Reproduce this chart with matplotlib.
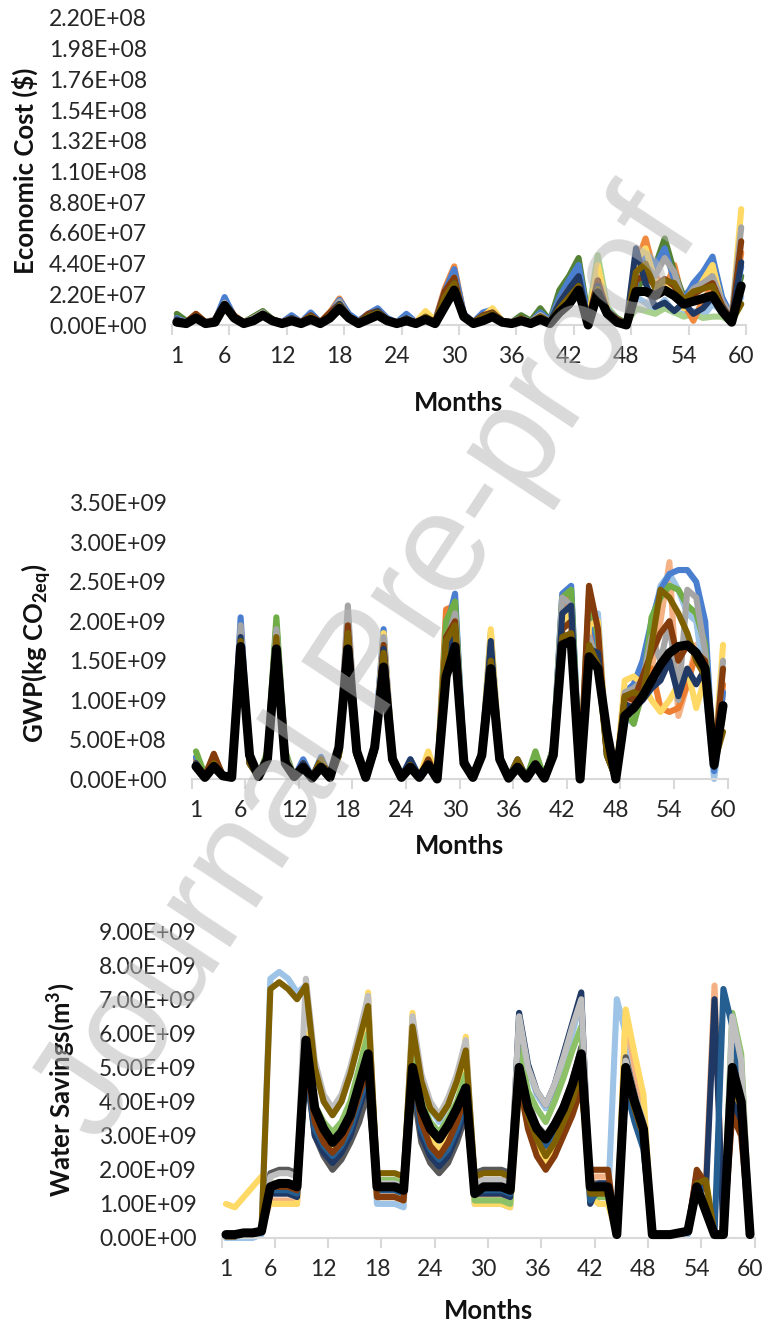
import matplotlib
matplotlib.use('Agg')
import matplotlib.pyplot as plt
from matplotlib.ticker import FixedLocator, FixedFormatter, FuncFormatter

# ---------------- data ----------------
months = list(range(1, 61))
xtick_labels = ['1', '6', '12', '18', '24', '30', '36', '42', '48', '54', '60']
xtick_pos = [1, 6, 12, 18, 24, 30, 36, 42, 48, 54, 60]

# Panel 1: Economic cost (units of 1e7 $)
econ_unit = 1e7
econ_orange = [0.6,0.2,0.8,0.2,0.4,1.8,0.7,0.2,0.5,0.9, 0.4,0.2,0.6,0.2,0.7,0.2,0.9,1.9,0.7,0.2,
               0.7,1.0,0.4,0.2,0.6,0.2,0.8,0.3,2.6,4.2, 0.8,0.2,0.7,0.9,0.3,0.2,0.6,0.2,0.8,0.3,
               1.5,2.8,3.8,0.4,3.6,1.0,0.4,0.1,4.3,6.2, 3.6,2.4,4.3,1.5,0.3,1.8,2.7,1.5,0.5,5.2]
econ_dgreen = [0.8,0.3,0.6,0.2,0.3,1.6,0.6,0.2,0.6,1.0, 0.4,0.2,0.5,0.2,0.6,0.2,0.7,1.6,0.6,0.3,
               0.6,0.9,0.4,0.2,0.6,0.2,0.6,0.2,2.0,3.6, 0.7,0.2,0.8,1.1,0.3,0.2,0.7,0.3,1.2,0.3,
               2.5,3.5,4.8,0.6,2.5,1.0,0.5,0.1,2.5,3.5, 4.2,6.2,3.8,2.0,2.8,3.4,3.6,1.8,0.8,3.5]
econ_lgreen = [0.5,0.2,0.5,0.2,0.3,1.5,0.5,0.2,0.5,0.9, 0.3,0.2,0.4,0.2,0.5,0.2,0.6,1.5,0.5,0.2,
               0.5,0.8,0.3,0.2,0.5,0.2,0.5,0.2,1.6,2.8, 0.6,0.2,0.6,0.9,0.3,0.2,0.5,0.2,0.9,0.3,
               1.5,2.4,3.0,0.6,5.0,1.3,0.5,0.1,1.2,1.0, 0.8,1.2,0.9,0.6,0.8,0.5,0.6,0.6,0.2,1.5]
econ_blue = [0.5,0.2,0.7,0.2,0.3,2.0,0.6,0.2,0.4,0.8, 0.3,0.2,0.7,0.2,0.9,0.2,0.8,1.8,0.8,0.3,
             0.8,1.2,0.5,0.2,0.8,0.2,0.6,0.3,2.4,4.0, 0.8,0.2,0.9,1.1,0.3,0.2,0.5,0.2,0.9,0.3,
             2.0,3.2,4.3,0.5,3.0,1.1,0.4,0.1,3.0,5.3, 4.2,5.5,3.2,1.8,3.0,3.8,4.9,2.0,0.6,4.2]
econ_yellow = [0.3,0.1,0.6,0.2,0.3,1.5,0.5,0.2,0.4,0.8, 0.3,0.1,0.4,0.2,0.5,0.2,0.6,1.5,0.6,0.2,
               0.5,0.8,0.3,0.1,0.5,0.2,1.0,0.3,1.8,3.0, 0.6,0.2,0.6,1.2,0.3,0.1,0.4,0.2,0.7,0.2,
               1.6,2.6,3.0,0.3,4.3,1.0,0.3,0.1,4.6,5.5, 3.2,2.6,3.0,1.2,2.0,3.2,4.3,1.5,0.4,8.3]
econ_gray = [0.4,0.2,0.6,0.2,0.4,1.6,0.6,0.2,0.5,0.9, 0.3,0.2,0.5,0.2,0.6,0.2,0.7,1.7,0.6,0.2,
             0.6,1.0,0.4,0.2,0.5,0.2,0.6,0.2,2.2,3.4, 0.6,0.2,0.6,0.9,0.3,0.2,0.5,0.2,0.7,0.2,
             1.4,2.4,3.3,0.4,2.8,0.9,0.4,0.1,3.3,4.3, 3.5,4.8,3.8,1.6,2.6,3.0,3.5,1.7,0.6,7.0]
econ_brown = [0.3,0.2,0.8,0.2,0.3,1.5,0.6,0.2,0.4,0.8, 0.3,0.2,0.5,0.2,0.7,0.2,0.9,1.5,0.6,0.2,
              0.8,1.0,0.4,0.2,0.4,0.2,0.5,0.2,2.4,3.4, 0.6,0.2,0.7,0.9,0.3,0.2,0.4,0.2,0.6,0.2,
              1.2,2.2,3.0,0.3,3.2,1.0,0.4,0.1,3.2,3.6, 2.8,3.3,2.8,1.4,2.2,2.6,3.0,1.4,0.3,6.0]
econ_olive = [0.3,0.1,0.6,0.1,0.3,1.5,0.5,0.1,0.4,0.8, 0.3,0.1,0.4,0.1,0.6,0.1,0.6,1.4,0.6,0.2,
              0.6,0.9,0.3,0.1,0.4,0.1,0.6,0.2,2.0,3.0, 0.6,0.2,0.6,0.8,0.3,0.1,0.5,0.1,0.6,0.2,
              1.2,2.0,2.8,0.3,2.6,0.8,0.3,0.1,3.8,4.4, 2.6,3.2,3.0,1.8,2.4,2.6,2.8,1.2,0.3,1.5]
econ_navy = [0.4,0.1,0.6,0.1,0.3,1.5,0.5,0.1,0.4,0.8, 0.3,0.1,0.5,0.1,0.6,0.1,0.6,1.5,0.6,0.2,
             0.6,1.0,0.3,0.1,0.5,0.1,0.5,0.2,1.8,3.0, 0.6,0.2,0.6,0.8,0.3,0.1,0.5,0.1,0.6,0.2,
             1.6,2.6,3.5,0.3,2.8,0.9,0.3,0.1,5.5,3.0, 1.3,1.6,1.0,1.6,0.8,1.2,2.0,1.3,0.3,4.5]
econ_lblue = [0.5,0.2,0.5,0.2,0.3,1.4,0.5,0.2,0.5,0.8, 0.3,0.2,0.4,0.2,0.5,0.2,0.6,1.4,0.5,0.2,
              0.5,0.8,0.3,0.2,0.4,0.2,0.5,0.2,1.4,2.2, 0.5,0.2,0.5,0.8,0.3,0.2,0.4,0.2,0.5,0.2,
              1.0,1.8,2.4,0.3,2.2,0.8,0.3,0.1,2.0,1.6, 1.0,1.8,0.9,0.8,1.0,0.6,1.5,1.0,0.2,2.0]
econ_mean = [0.2,0.1,0.5,0.1,0.2,1.4,0.5,0.1,0.3,0.7, 0.3,0.1,0.3,0.1,0.4,0.1,0.5,1.2,0.5,0.1,
             0.4,0.7,0.3,0.1,0.3,0.1,0.4,0.1,1.3,2.5, 0.6,0.1,0.3,0.6,0.2,0.1,0.3,0.1,0.4,0.1,
             0.9,1.5,2.5,0.0,2.3,0.8,0.2,0.0,2.4,2.4, 2.1,2.5,2.1,1.5,1.7,1.9,2.1,1.0,0.2,2.8]

# Panel 2: GWP (units of 1e8 kg CO2eq)
gwp_unit = 1e8
gwp_orange = [2.5,0.5,2.8,0.5,0.5,19.0,2.5,0.5,3.0,19.0, 3.0,0.3,2.0,0.2,2.0,0.2,3.5,20.5,3.5,0.3,
              4.0,18.0,3.0,0.3,2.0,0.3,2.5,0.2,21.5,22.0, 2.5,0.3,3.5,17.0,3.0,0.2,2.0,0.2,2.5,0.2,
              4.0,22.0,23.0,0.5,19.0,15.0,4.0,0.2,10.0,12.0, 13.5,14.0,9.0,8.5,9.0,12.0,16.0,15.0,2.0,12.0]
gwp_blue = [2.8,0.3,2.5,0.4,0.4,20.5,2.5,0.3,3.0,19.5, 3.0,0.2,2.5,0.2,2.8,0.2,3.5,20.0,3.5,0.3,
            4.5,19.0,3.0,0.3,2.5,0.3,2.0,0.2,19.0,23.5, 2.5,0.3,3.5,18.5,3.0,0.2,2.5,0.2,3.0,0.2,
            4.0,23.5,24.5,0.5,21.5,17.0,3.5,0.2,11.0,12.0, 15.0,20.0,24.0,26.0,26.5,26.5,25.0,20.0,1.0,11.0]
gwp_green = [3.5,0.5,3.0,0.5,0.5,18.0,2.0,0.3,3.5,20.5, 3.5,0.2,1.5,0.1,2.0,0.1,3.0,18.5,3.0,0.2,
             3.5,17.0,2.5,0.2,2.0,0.2,2.0,0.1,20.0,22.5, 2.0,0.2,3.0,17.0,2.5,0.1,2.0,0.1,3.5,0.1,
             4.0,23.0,24.0,0.3,23.5,18.0,3.0,0.1,9.0,7.0, 11.0,20.5,23.0,24.5,24.0,22.0,21.0,17.0,2.0,8.0]
gwp_yellow = [2.0,0.3,2.0,0.3,0.3,17.5,2.0,0.3,2.5,17.0, 2.5,0.2,1.5,0.1,1.8,0.1,3.0,17.0,3.0,0.2,
              3.5,18.5,3.0,0.2,2.0,0.2,3.5,0.1,14.0,18.0, 2.0,0.2,3.0,19.0,3.0,0.1,1.8,0.1,2.0,0.1,
              3.0,20.0,21.0,0.3,19.5,20.0,4.0,0.1,12.5,13.0, 12.0,10.0,8.5,10.0,12.0,14.0,9.0,13.0,2.0,17.0]
gwp_gray = [2.0,0.3,2.5,0.3,0.3,19.5,2.0,0.3,3.0,19.0, 3.0,0.2,2.0,0.2,2.0,0.2,3.5,22.0,3.5,0.2,
            4.0,18.0,2.5,0.2,1.8,0.2,2.0,0.1,17.0,21.0, 2.0,0.2,3.0,16.0,2.5,0.1,1.8,0.1,2.0,0.1,
            3.5,23.0,22.0,0.3,18.0,14.5,3.5,0.1,11.0,11.5, 12.5,18.0,15.0,20.0,10.0,24.0,23.0,16.0,1.5,15.0]
gwp_brown = [2.0,0.3,3.2,0.4,0.3,17.0,2.0,0.3,2.5,17.0, 2.5,0.2,2.0,0.2,2.5,0.2,3.0,19.5,3.0,0.2,
             3.5,17.0,2.5,0.2,2.0,0.2,2.5,0.1,18.0,20.0, 2.0,0.2,3.0,15.5,2.5,0.1,2.0,0.1,2.0,0.1,
             3.0,19.0,20.0,0.3,24.5,19.0,3.5,0.1,10.5,10.0, 13.0,16.0,18.5,20.0,15.0,17.0,16.0,15.0,2.0,14.0]
gwp_olive = [1.8,0.2,2.0,0.3,0.3,17.5,2.0,0.3,2.5,18.0, 2.5,0.2,1.5,0.1,2.5,0.1,3.0,18.5,3.0,0.2,
             3.5,16.0,2.5,0.2,1.8,0.2,2.0,0.1,17.5,19.5, 2.0,0.2,3.0,15.0,2.5,0.1,2.5,0.1,2.0,0.1,
             3.0,18.0,18.5,0.3,17.0,14.5,3.0,0.1,10.5,11.0, 10.5,17.0,24.0,23.0,21.0,18.5,15.0,13.0,2.0,6.0]
gwp_navy = [2.0,0.2,1.8,0.3,0.3,18.0,2.0,0.3,2.5,17.0, 2.5,0.2,2.0,0.1,1.5,0.1,3.0,17.5,3.0,0.2,
            3.5,16.5,2.5,0.2,2.5,0.2,2.0,0.1,15.0,19.0, 2.0,0.2,3.0,17.5,2.5,0.1,2.0,0.1,2.0,0.1,
            3.0,21.0,22.0,0.3,16.5,16.0,3.0,0.1,9.5,9.0, 10.0,11.5,12.5,15.0,10.5,14.0,12.0,14.0,1.5,9.0]
gwp_lblue = [2.5,0.3,2.0,0.3,0.3,18.5,2.0,0.3,2.5,19.5, 2.5,0.2,1.8,0.1,1.8,0.1,3.0,20.0,3.0,0.2,
             3.5,17.5,2.5,0.2,2.0,0.2,2.0,0.1,16.0,21.0, 2.0,0.2,3.0,16.5,2.5,0.1,2.0,0.1,2.0,0.1,
             3.5,22.0,23.0,0.3,20.0,21.0,3.5,0.1,8.0,7.0, 12.0,19.0,24.5,26.0,24.0,21.0,20.0,12.0,0.0,9.0]
gwp_salmon = [2.0,0.3,2.0,0.3,0.3,18.0,2.0,0.3,2.5,17.5, 2.5,0.2,2.0,0.1,2.0,0.1,3.0,18.0,3.0,0.2,
              3.5,16.5,2.5,0.2,1.8,0.2,2.0,0.1,17.0,20.5, 2.0,0.2,3.0,15.5,2.5,0.1,2.0,0.1,2.0,0.1,
              3.0,19.0,20.0,0.3,18.0,16.5,3.0,0.1,9.0,10.0, 11.0,14.0,20.0,27.5,8.0,12.0,17.0,14.0,1.5,11.0]
gwp_mean = [1.6,0.2,1.6,0.4,0.2,16.8,3.0,0.3,2.5,16.5, 2.0,0.3,1.5,0.1,1.5,0.2,4.0,16.5,3.5,0.2,
            4.0,14.2,2.5,0.2,1.5,0.2,1.8,0.0,13.0,16.8, 2.0,0.2,3.0,14.0,2.5,0.1,1.5,0.1,1.8,0.1,
            3.0,17.0,17.5,0.0,15.5,14.0,6.0,0.0,8.0,9.0, 10.5,12.5,14.5,16.0,16.8,17.0,16.0,14.0,1.8,9.3]

# Panel 3: Water savings (units of 1e9 m3)
water_unit = 1e9
water_lblue = [0.0,0.0,0.0,0.0,0.1,7.6,7.8,7.6,7.2,7.4, 5.0,4.0,3.6,4.0,4.8,5.8,7.0,1.0,1.0,1.0,
               0.9,6.4,4.6,3.8,3.4,3.9,4.6,5.6,1.0,1.0, 1.0,1.0,0.9,6.4,5.0,4.2,3.8,4.4,5.2,6.0,
               7.0,1.2,1.0,1.0,7.0,6.0,4.8,3.6,0.1,0.1, 0.1,0.1,0.1,1.8,1.5,0.1,0.1,6.0,5.0,0.1]
water_olive = [0.05,0.05,0.1,0.1,0.2,7.3,7.5,7.3,7.0,7.4, 5.0,4.0,3.6,4.0,4.8,5.8,6.8,1.9,1.9,1.9,
               1.8,6.2,4.6,3.8,3.5,3.9,4.6,5.5,1.8,1.9, 1.9,1.9,1.8,4.8,3.6,2.9,2.4,2.8,3.4,4.0,
               5.0,1.3,1.3,1.3,0.1,4.8,3.8,3.0,0.1,0.1, 0.1,0.1,0.2,1.6,1.7,0.1,0.1,4.6,3.8,0.1]
water_gray = [0.05,0.05,0.1,0.1,0.2,1.8,1.9,1.9,1.8,7.6, 5.2,4.2,3.8,4.2,5.0,6.0,7.1,1.6,1.6,1.6,
              1.5,6.5,4.8,4.0,3.6,4.1,4.8,5.8,1.6,1.7, 1.7,1.7,1.6,6.5,5.0,4.3,3.9,4.5,5.3,6.2,
              7.0,1.5,1.5,1.5,0.1,5.2,4.2,3.4,0.1,0.1, 0.1,0.1,0.2,1.4,1.2,0.1,0.1,6.5,5.2,0.1]
water_dgray = [0.05,0.05,0.1,0.1,0.2,1.9,2.0,2.0,1.9,5.0, 3.0,2.4,2.0,2.3,2.8,3.4,4.3,1.6,1.6,1.6,
               1.5,4.5,2.8,2.2,1.9,2.2,2.8,3.6,1.9,2.0, 2.0,2.0,1.9,5.3,4.0,3.3,3.0,3.4,3.9,4.6,
               5.6,1.6,1.6,1.6,0.1,5.3,4.2,3.3,0.1,0.1, 0.1,0.1,0.2,1.6,1.5,0.1,0.1,5.2,4.2,0.1]
water_yellow = [1.0,0.9,1.2,1.5,1.8,1.0,1.0,1.0,1.0,6.0, 3.6,2.9,2.5,2.8,3.4,4.2,7.2,1.2,1.2,1.2,
                1.1,6.6,3.6,2.9,2.6,2.9,3.5,5.9,1.0,1.0, 1.0,1.0,0.9,4.4,3.3,2.6,2.2,2.6,3.2,3.8,
                4.6,1.2,1.0,1.0,0.1,6.7,5.4,4.2,0.1,0.1, 0.1,0.1,0.2,1.5,1.8,0.1,0.1,4.0,3.6,0.1]
water_salmon = [0.05,0.05,0.1,0.1,0.2,1.1,1.1,1.1,1.0,5.4, 3.2,2.6,2.3,2.6,3.2,4.0,4.8,1.3,1.3,1.3,
                1.2,5.2,3.4,2.8,2.5,2.8,3.3,4.0,1.2,1.2, 1.2,1.2,1.1,4.6,3.5,2.8,2.5,2.9,3.4,4.0,
                4.9,1.8,1.8,1.8,0.1,6.6,5.0,3.8,0.1,0.1, 0.1,0.1,0.2,1.6,1.5,7.4,0.1,4.0,3.4,0.1]
water_navy = [0.05,0.05,0.1,0.1,0.2,1.3,1.3,1.3,1.2,5.2, 3.0,2.5,2.2,2.5,3.0,3.8,4.6,1.5,1.5,1.5,
              1.4,5.0,3.0,2.4,2.1,2.4,3.0,3.8,1.3,1.3, 1.3,1.3,1.2,6.6,5.1,4.3,3.9,4.5,5.4,6.3,
              7.2,1.0,1.6,1.6,0.1,4.6,3.6,2.8,0.1,0.1, 0.1,0.1,0.2,1.9,1.2,7.0,0.1,4.0,3.4,0.1]
water_dblue = [0.05,0.05,0.1,0.1,0.2,1.4,1.4,1.4,1.3,5.0, 3.2,2.7,2.4,2.7,3.2,4.0,4.8,1.4,1.4,1.4,
               1.3,4.8,3.2,2.6,2.3,2.6,3.2,4.0,1.4,1.4, 1.4,1.4,1.3,4.9,3.7,3.1,2.7,3.1,3.7,4.3,
               5.2,1.1,1.4,1.4,0.1,4.4,3.4,2.6,0.1,0.1, 0.1,0.1,0.2,1.5,1.4,0.1,7.3,6.2,4.5,0.1]
water_green = [0.05,0.05,0.1,0.1,0.2,1.6,1.6,1.6,1.5,5.6, 3.9,3.4,3.1,3.4,4.0,5.0,6.0,1.7,1.7,1.7,
               1.6,5.6,4.0,3.4,3.1,3.5,4.0,4.8,1.1,1.1, 1.1,1.1,1.0,5.6,4.3,3.8,3.4,4.0,4.7,5.5,
               6.2,1.4,1.2,1.2,0.1,5.0,4.0,3.2,0.1,0.1, 0.1,0.1,0.2,1.4,1.3,0.1,0.1,6.6,5.4,0.1]
water_brown = [0.05,0.05,0.1,0.1,0.2,1.5,1.5,1.5,1.4,5.2, 3.4,2.8,2.5,2.8,3.4,4.2,5.0,1.2,1.2,1.2,
               1.1,5.0,3.4,2.7,2.4,2.8,3.4,4.2,1.6,1.7, 1.7,1.7,1.6,4.6,3.2,2.4,2.0,2.4,3.0,3.6,
               4.4,2.0,2.0,2.0,0.1,4.8,3.8,3.0,0.1,0.1, 0.1,0.1,0.2,2.0,1.6,0.1,0.1,3.6,3.0,0.1]
water_mean = [0.1,0.1,0.15,0.15,0.2,1.5,1.6,1.6,1.5,5.8, 3.8,3.2,2.8,3.1,3.6,4.5,5.4,1.5,1.5,1.5,
              1.4,5.0,3.8,3.2,2.9,3.3,3.8,4.4,1.3,1.5, 1.5,1.5,1.4,5.0,3.8,3.2,2.9,3.3,3.8,4.5,
              5.4,1.5,1.5,1.5,0.1,5.0,4.0,3.2,0.1,0.1, 0.1,0.15,0.2,1.5,0.8,0.1,0.1,5.0,4.0,0.1]

# ---------------- styling ----------------
plt.rcParams['font.family'] = ['Lato', 'DejaVu Sans']
plt.rcParams['mathtext.fontset'] = 'custom'
plt.rcParams['mathtext.rm'] = 'Lato'
plt.rcParams['mathtext.bf'] = 'Lato:bold'

W, H = 763, 1328
fig = plt.figure(figsize=(W / 100, H / 100), dpi=100)

def make_ax(left, right, y0, ytop):
    return fig.add_axes([left / W, 1 - y0 / H, (right - left) / W, (y0 - ytop) / H])

sci = FuncFormatter(lambda v, p: f"{v:.2E}")
TICK_FS = 16.5

def style(ax, ymax, ystep):
    for s in ['left', 'right', 'top']:
        ax.spines[s].set_visible(False)
    ax.spines['bottom'].set_color('#d9d9d9')
    ax.spines['bottom'].set_linewidth(1.5)
    ax.set_xlim(0.5, 60.5)
    ax.set_ylim(0, ymax)
    ax.xaxis.set_major_locator(FixedLocator([0.5 + 6 * k for k in range(11)]))
    ax.xaxis.set_major_formatter(FixedFormatter([''] * 11))
    ax.xaxis.set_minor_locator(FixedLocator(xtick_pos))
    ax.xaxis.set_minor_formatter(FixedFormatter(xtick_labels))
    ax.tick_params(axis='x', which='major', length=7, width=1.5, color='#d9d9d9', direction='out')
    ax.tick_params(axis='x', which='minor', length=0, pad=15, labelsize=TICK_FS, labelcolor='#262626')
    nt = int(round(ymax / ystep))
    ax.yaxis.set_major_locator(FixedLocator([ystep * k for k in range(nt + 1)]))
    ax.yaxis.set_major_formatter(sci)
    ax.tick_params(axis='y', length=0, pad=18, labelsize=TICK_FS, labelcolor='#262626')
    ax.patch.set_alpha(0)

def draw(ax, series, unit, mean):
    for vals, col in series:
        ax.plot(months, [v * unit for v in vals], color=col, lw=4.4, clip_on=False,
                solid_joinstyle='round', solid_capstyle='round')
    ax.plot(months, [v * unit for v in mean], color='black', lw=6.5, clip_on=False,
            solid_joinstyle='round', solid_capstyle='round', zorder=5)

# Panel 1
ax1 = make_ax(172, 746, 325, 18)
style(ax1, 2.2e8, 2.2e7)
draw(ax1, [(econ_lblue, '#9DC3E6'), (econ_lgreen, '#A9D18E'), (econ_orange, '#F08A3E'),
           (econ_dgreen, '#548235'), (econ_blue, '#4A7FD0'), (econ_yellow, '#FFD966'),
           (econ_gray, '#A5A5A5'), (econ_brown, '#843C0C'), (econ_navy, '#1F3864'),
           (econ_olive, '#7F6000')], econ_unit, econ_mean)

# Panel 2
ax2 = make_ax(191.5, 727.5, 779, 503)
style(ax2, 3.5e9, 5e8)
draw(ax2, [(gwp_salmon, '#F4B183'), (gwp_lblue, '#9DC3E6'), (gwp_orange, '#ED7D31'),
           (gwp_blue, '#4A7FD0'), (gwp_green, '#70AD47'), (gwp_yellow, '#FFD966'),
           (gwp_gray, '#A5A5A5'), (gwp_brown, '#843C0C'), (gwp_navy, '#1F3864'),
           (gwp_olive, '#7F6000')], gwp_unit, gwp_mean)

# Panel 3
ax3 = make_ax(221.5, 754.5, 1238, 931)
style(ax3, 9e9, 1e9)
draw(ax3, [(water_lblue, '#9DC3E6'), (water_salmon, '#F4B183'), (water_yellow, '#FFD966'),
           (water_dgray, '#595959'), (water_green, '#8CC168'), (water_navy, '#1F3864'),
           (water_dblue, '#255E91'), (water_brown, '#843C0C'), (water_gray, '#BFBFBF'),
           (water_olive, '#7F6000')], water_unit, water_mean)

# axis titles
def ftext(x, y, s, **kw):
    fig.text(x / W, 1 - y / H, s, ha='center', va='center', **kw)

LAB_FS = 18.5
ftext(459, 403, 'Months', fontsize=LAB_FS, fontweight='bold', color='#111111')
ftext(459.5, 846, 'Months', fontsize=LAB_FS, fontweight='bold', color='#111111')
ftext(488, 1311, 'Months', fontsize=LAB_FS, fontweight='bold', color='#111111')
ftext(25, 171, 'Economic Cost ($)', fontsize=LAB_FS, fontweight='bold', rotation=90, color='#111111')
ftext(36, 653, r'GWP(kg CO$_{\mathbf{2eq}}$)', fontsize=LAB_FS, fontweight='bold', rotation=90, color='#111111')
ftext(61, 1090, r'Water Savings(m$^{\mathbf{3}}$)', fontsize=LAB_FS, fontweight='bold', rotation=90, color='#111111')

# watermark
fig.text(0.485, 0.497, 'Journal Pre-proof', rotation=56.6, fontsize=102,
         family='Liberation Sans', color=(0.72, 0.72, 0.72), alpha=0.53,
         ha='center', va='center', rotation_mode='anchor', zorder=20)

fig.savefig('out.png', dpi=100)
